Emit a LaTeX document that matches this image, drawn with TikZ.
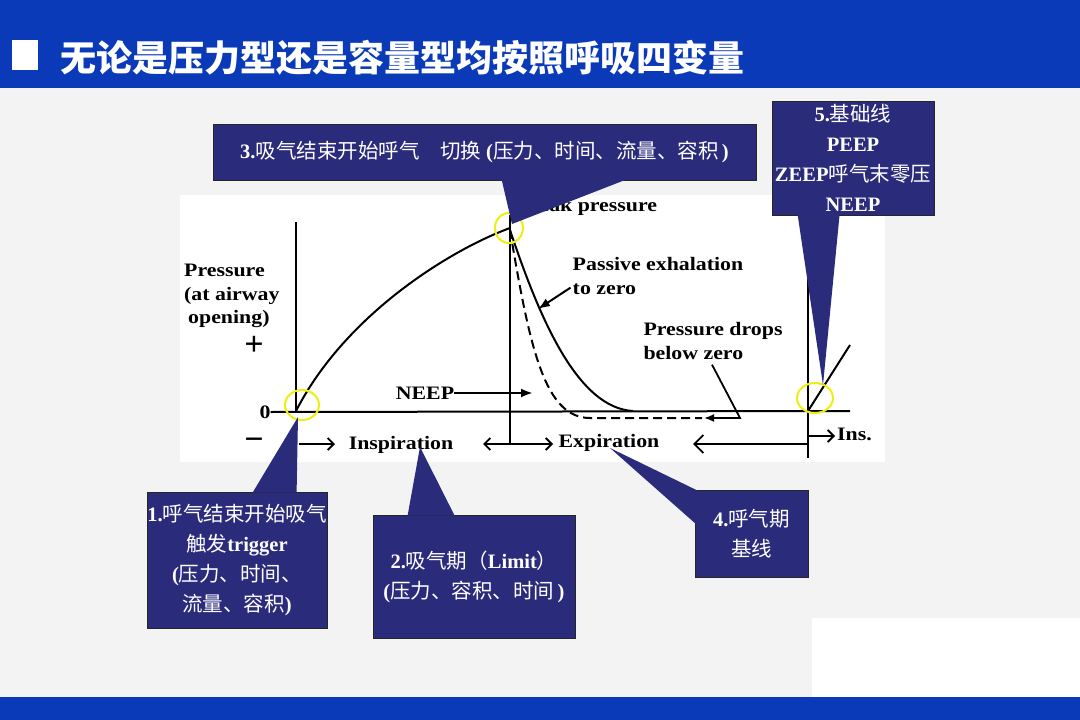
\documentclass[tikz,border=0pt]{standalone}
\usepackage{fontspec}
\setmainfont{Liberation Serif}
\newfontfamily\cjk{Noto Sans CJK SC}
\newfontfamily\plotfont{Liberation Serif}[FakeStretch=1.15]
\usetikzlibrary{arrows.meta,calc}
\definecolor{SlideBlue}{HTML}{0A3AB8}
\definecolor{BoxNavy}{HTML}{2B2B7B}
\definecolor{PageGray}{HTML}{F3F3F3}
\definecolor{RingYellow}{HTML}{EEEE10}
\newcommand{\zh}[1]{{\cjk\mdseries #1}}
\tikzset{
  calloutbox/.style={draw=black!85, line width=0.8pt, fill=BoxNavy, text=white,
    align=center, inner sep=0pt, font=\fontsize{20.5}{30}\selectfont\bfseries},
  pointer/.style={fill=BoxNavy},
  plotlbl/.style={inner sep=0pt, font=\plotfont\fontsize{19}{23.5}\selectfont\bfseries, align=left},
  plotline/.style={line width=2pt, black},
  fatarr/.style={-{Latex[length=12pt,width=9pt]}, line width=2.4pt},
  openarr/.style={-{Straight Barb[length=6pt,width=12pt]}, line width=1.8pt},
  ringmark/.style={draw=RingYellow, line width=2pt},
}
\begin{document}
\begin{tikzpicture}[x=1pt,y=-1pt]
  \useasboundingbox (0,0) rectangle (1080,720);
  % slide background
  \fill[PageGray] (0,0) rectangle (1080,720);
  \fill[white] (812,618) rectangle (1080,697);
  \fill[SlideBlue] (0,0) rectangle (1080,88);
  \fill[SlideBlue] (0,697) rectangle (1080,720);
  \fill[white] (12,40) rectangle (38,70);
  \node[anchor=west, inner sep=0pt, text=white, font=\fontsize{36}{40}\selectfont\cjk\bfseries]
    (title) at (60,58) {无论是压力型还是容量型均按照呼吸四变量};

  % plot area
  \fill[white] (180,195) rectangle (885,462);
  \node[plotlbl, anchor=west] (ylbl) at (184,296) {Pressure\\(at airway\\\hspace*{4pt}opening)};
  \node[inner sep=0pt, font=\fontsize{34}{34}\selectfont\bfseries] (plus) at (254,346) {+};
  \node[inner sep=0pt, font=\fontsize{34}{34}\selectfont\bfseries] (minus) at (254,444) {−};
  \node[plotlbl] (zero) at (265,412) {0};
  \draw[plotline] (zero.east) -- (850,411);
  \draw[plotline] (296,222) -- (296,411);
  \draw[plotline] (296,411) .. controls (345,315) and (450,250) .. (510,228);
  \draw[plotline] (510,215) -- (510,445);
  \draw[plotline] (510,230) .. controls (540,320) and (578,408) .. (633,411);
  \draw[plotline, dashed, dash pattern=on 9pt off 5pt] (510,230) .. controls (530,350) and (545,418) .. (590,418) -- (702,418);
  \node[plotlbl, anchor=west] (peak) at (526,207) {Peak pressure};
  \node[plotlbl] (passive) at (658,276) {Passive exhalation\\to zero};
  \draw[fatarr, line width=2pt] ($(passive.south west)+(-2,-7)$) -- (538,309);
  \node[plotlbl] (pdrop) at (713,341) {Pressure drops\\below zero};
  \draw[line width=1.8pt, -{Latex[length=10pt,width=8pt]}] ($(pdrop.south)+(-1,5)$) -- (740,418) -- (704,418);
  \node[plotlbl] (neep) at (425,393) {NEEP};
  \draw[fatarr] (neep.east) -- (533,393);
  \node[plotlbl] (insp) at (401,445) {Inspiration};
  \node[plotlbl] (expi) at (609,443) {Expiration};
  \draw[openarr] (299,444) -- (335,444);
  \draw[openarr] (510,444) -- (483,444);
  \draw[openarr] (510,444) -- (553,444);
  \draw[plotline] (808,222) -- (808,458);
  \draw[plotline] (808,411) -- (850,345);
  \draw[openarr, -{Straight Barb[length=9pt,width=18pt]}] (808,444) -- (693,444);
  \draw[openarr] (808,436) -- (835,436);
  \node[plotlbl, anchor=west] (ins) at (837,434) {Ins.};

  % yellow rings
  \draw[ringmark] (302,405) ellipse [x radius=17, y radius=15];
  \draw[ringmark] (509,228) ellipse [x radius=14, y radius=15];
  \draw[ringmark] (815,398) ellipse [x radius=18, y radius=15];

  % callouts
  \node[calloutbox, minimum width=180, minimum height=136] (c1) at (237,560)
    {1.\zh{呼气结束开始吸气}\\\zh{触发}trigger\\(\zh{压力、时间、}\\\zh{流量、容积})};
  \coordinate (t1) at (298,417);
  \fill[pointer] ($(c1.north west)+(106,1)$) -- (t1) -- ($(c1.north west)+(150,1)$) -- cycle;

  \node[calloutbox, minimum width=202, minimum height=123] (c2) at (474,576.5)
    {2.\zh{吸气期（}Limit\zh{）}\\(\zh{压力、容积、时间}\,)};
  \coordinate (t2) at (420,447);
  \fill[pointer] ($(c2.north west)+(35,1)$) -- (t2) -- ($(c2.north west)+(82,1)$) -- cycle;

  \node[calloutbox, minimum width=543, minimum height=56] (c3) at (484.5,152)
    {3.\zh{吸气结束开始呼气\quad 切换} (\zh{压力、时间、流量、容积}\,)};
  \coordinate (t3) at (512,224);
  \fill[pointer] ($(c3.south west)+(289,-1)$) -- (t3) -- ($(c3.south west)+(414,-1)$) -- cycle;

  \node[calloutbox, minimum width=113, minimum height=87] (c4) at (751.5,533.5)
    {4.\zh{呼气期}\\\zh{基线}};
  \coordinate (t4) at (610,448);
  \fill[pointer] (t4) -- ($(c4.north west)+(2,0.5)$) -- ($(c4.north west)+(2,35)$) -- cycle;

  \node[calloutbox, minimum width=162, minimum height=114] (c5) at (853,158)
    {5.\zh{基础线}\\PEEP\\ZEEP\zh{呼气末零压}\\NEEP};
  \coordinate (t5) at (823,385);
  \fill[pointer] ($(c5.south west)+(26,-1)$) -- (t5) -- ($(c5.south west)+(68,-1)$) -- cycle;
\end{tikzpicture}
\end{document}
